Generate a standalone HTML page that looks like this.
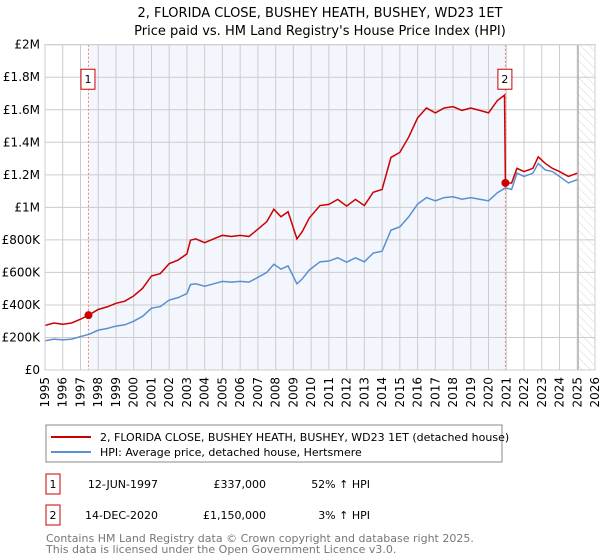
<!DOCTYPE html>
<html><head><meta charset="utf-8"><style>
body{margin:0;background:#fff;font-family:"DejaVu Sans","Liberation Sans",sans-serif}
svg{display:block}
</style></head><body>
<svg id="chart" width="600" height="560" xmlns="http://www.w3.org/2000/svg">
<text x="320" y="17" text-anchor="middle" font-size="13">2, FLORIDA CLOSE, BUSHEY HEATH, BUSHEY, WD23 1ET</text>
<text x="320" y="35" text-anchor="middle" font-size="13">Price paid vs. HM Land Registry's House Price Index (HPI)</text>
<g id="plot"></g>
<g>
<rect x="46" y="425" width="456" height="37" fill="#fff" stroke="#888"/>
<line x1="51" y1="437" x2="91" y2="437" stroke="#cc0000" stroke-width="2"/>
<text x="100" y="441" font-size="11">2, FLORIDA CLOSE, BUSHEY HEATH, BUSHEY, WD23 1ET (detached house)</text>
<line x1="51" y1="452" x2="91" y2="452" stroke="#5b8fd0" stroke-width="2"/>
<text x="100" y="456" font-size="11">HPI: Average price, detached house, Hertsmere</text>
</g>
<g font-size="11">
<rect x="46" y="474" width="14" height="20" fill="#fff" stroke="#cc0000"/>
<text x="53" y="488" text-anchor="middle">1</text>
<text x="158" y="488" text-anchor="end">12-JUN-1997</text>
<text x="266" y="488" text-anchor="end">£337,000</text>
<text x="370" y="488" text-anchor="end">52% ↑ HPI</text>
<rect x="46" y="505" width="14" height="20" fill="#fff" stroke="#cc0000"/>
<text x="53" y="519" text-anchor="middle">2</text>
<text x="158" y="519" text-anchor="end">14-DEC-2020</text>
<text x="266" y="519" text-anchor="end">£1,150,000</text>
<text x="370" y="519" text-anchor="end">3% ↑ HPI</text>
</g>
<text x="46" y="542" font-size="11" fill="#777">Contains HM Land Registry data © Crown copyright and database right 2025.</text>
<text x="46" y="553" font-size="11" fill="#777">This data is licensed under the Open Government Licence v3.0.</text>
</svg>
<script>
const hpiYears=[1995,1995.5,1996,1996.5,1997,1997.5,1998,1998.5,1999,1999.5,2000,2000.5,2001,2001.5,2002,2002.5,2003,2003.2,2003.5,2004,2004.5,2005,2005.5,2006,2006.5,2007,2007.5,2007.9,2008.3,2008.7,2009.2,2009.5,2009.9,2010.5,2011,2011.5,2012,2012.5,2013,2013.5,2014,2014.5,2015,2015.5,2016,2016.5,2017,2017.5,2018,2018.5,2019,2019.5,2020,2020.5,2020.95,2021.3,2021.6,2022,2022.5,2022.8,2023.2,2023.6,2024,2024.5,2025];
const hpiValues=[180,190,185,190,205,220,245,255,270,278,300,330,380,390,430,445,470,525,530,515,530,545,540,545,540,570,600,650,620,640,530,560,615,665,670,690,663,690,665,719,730,860,880,942,1020,1060,1040,1060,1065,1050,1060,1050,1040,1090,1120,1110,1210,1190,1210,1270,1230,1220,1190,1150,1170];
const redYears=[1995,1995.5,1996,1996.5,1997,1997.45,1998,1998.5,1999,1999.5,2000,2000.5,2001,2001.5,2002,2002.5,2003,2003.2,2003.5,2004,2004.5,2005,2005.5,2006,2006.5,2007,2007.5,2007.9,2008.3,2008.7,2009.2,2009.5,2009.9,2010.5,2011,2011.5,2012,2012.5,2013,2013.5,2014,2014.5,2015,2015.5,2016,2016.5,2017,2017.5,2018,2018.5,2019,2019.5,2020,2020.5,2020.9,2020.95,2021.3,2021.6,2022,2022.5,2022.8,2023.2,2023.6,2024,2024.5,2025];
const redValues=[274,289,281,289,312,337,372,388,410,423,456,502,578,593,654,676,714,798,806,783,806,828,821,828,821,866,912,988,942,973,806,851,935,1011,1018,1049,1008,1049,1011,1093,1110,1307,1338,1432,1550,1611,1581,1611,1619,1596,1611,1596,1581,1657,1690,1150,1150,1240,1220,1240,1310,1270,1240,1220,1190,1210];
const saleYears=[1997.45,2020.95];
const saleValues=[337,1150];
const saleLabels=["1","2"];
const yTicks=[0,200,400,600,800,1000,1200,1400,1600,1800,2000];
const yTickLabels=["£0","£200K","£400K","£600K","£800K","£1M","£1.2M","£1.4M","£1.6M","£1.8M","£2M"];
const xTicks=[1995,1996,1997,1998,1999,2000,2001,2002,2003,2004,2005,2006,2007,2008,2009,2010,2011,2012,2013,2014,2015,2016,2017,2018,2019,2020,2021,2022,2023,2024,2025,2026];

const L=45,R=595,T=44.7,B=370;
const X=y=>L+(y-1995)/(2026-1995)*(R-L);
const Y=v=>B-v/2000*(B-T);
const NS="http://www.w3.org/2000/svg";
const g=document.getElementById('plot');
function mk(tag,attrs){const e=document.createElementNS(NS,tag);for(const k in attrs)e.setAttribute(k,attrs[k]);g.appendChild(e);return e;}

let e=mk('rect',{x:X(1997.45),y:T,width:X(2020.95)-X(1997.45),height:B-T,fill:'#f3f6fd'});


const defs=mk('defs',{});
defs.innerHTML='<pattern id="hatch" width="6" height="6" patternUnits="userSpaceOnUse" patternTransform="rotate(-45)"><line x1="0" y1="0" x2="0" y2="6" stroke="#d8d8d8" stroke-width="1"/></pattern>';
e=mk('rect',{x:X(2025.05),y:T,width:R-X(2025.05),height:B-T,fill:'url(#hatch)'});



xTicks.forEach(t=>{
  let l=mk('line',{x1:X(t),x2:X(t),y1:T,y2:B,stroke:'#ccc'});
  
  
  let tx=mk('text',{x:0,y:0,'font-size':'12',transform:`translate(${X(t)+4},${B+7}) rotate(-90)`,'text-anchor':'end'});
  tx.textContent=t;
  
  
});
yTicks.forEach((t,i)=>{
  let l=mk('line',{x1:L,x2:R,y1:Y(t),y2:Y(t),stroke:'#ccc'});
  
  
  let tx=mk('text',{x:L-5,y:Y(t)+4,'font-size':'12','text-anchor':'end'});
  tx.textContent=yTickLabels[i];
  
  
});
e=mk('line',{x1:X(2025.05),x2:X(2025.05),y1:T,y2:B,stroke:'#aaa','stroke-width':1.2});


saleYears.forEach((s,i)=>{
  let l=mk('line',{x1:X(s),x2:X(s),y1:T,y2:B,stroke:'#f08080','stroke-dasharray':'2,2'});
  
  
});
e=mk('polyline',{points:hpiYears.map((y,i)=>X(y)+','+Y(hpiValues[i])).join(' '),fill:'none',stroke:'#5b8fd0','stroke-width':1.5});


e=mk('polyline',{points:redYears.map((y,i)=>X(y)+','+Y(redValues[i])).join(' '),fill:'none',stroke:'#cc0000','stroke-width':1.5});


saleYears.forEach((s,i)=>{
  let c=mk('circle',{cx:X(s),cy:Y(saleValues[i]),r:4,fill:'#cc0000'});
  
  
  let bx=X(s)-7, by=Y(1800)-8;
  let r=mk('rect',{x:bx-0.5,y:by,width:14,height:20,fill:'#fff',stroke:'#cc0000'});
  
  
  let t=mk('text',{x:X(s)-0.5,y:by+14,'font-size':'11','text-anchor':'middle'});
  t.textContent=saleLabels[i];
  
  
});
e=mk('rect',{x:L,y:T,width:R-L,height:B-T,fill:'none',stroke:'#ccc'});


</script>
</body></html>
